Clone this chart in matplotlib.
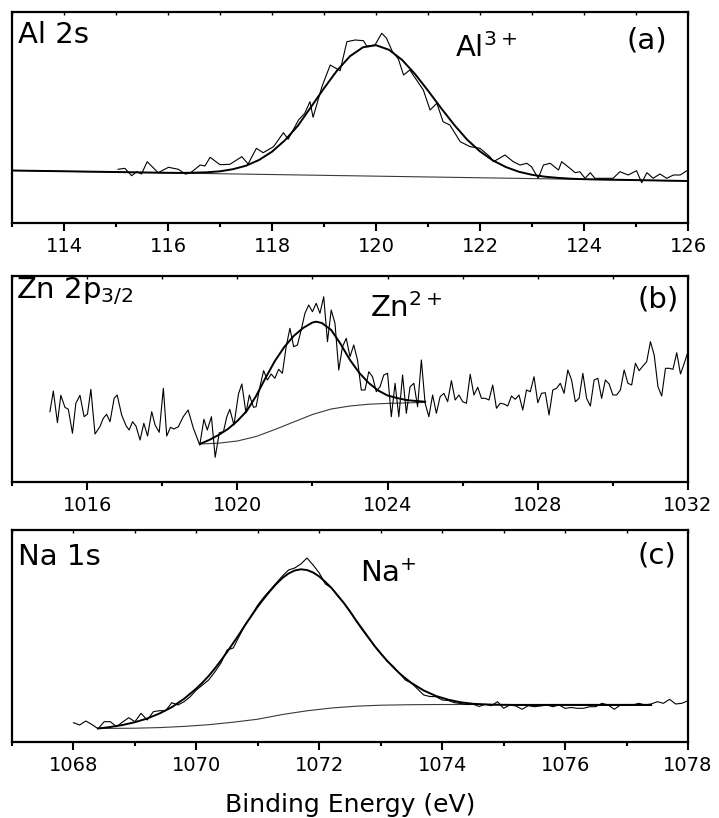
import numpy as np
import matplotlib
matplotlib.use("Agg")
import matplotlib.pyplot as plt
from matplotlib.ticker import MultipleLocator, NullLocator

plt.rcParams['font.family'] = ['DejaVu Sans']
plt.rcParams['mathtext.fontset'] = 'dejavusans'

# ---------------- Panel (a) Al 2s ----------------
raw_a_x = [115.04, 115.17, 115.30, 115.40, 115.49, 115.60, 115.81, 116.01, 116.20, 116.33,
           116.42, 116.62, 116.71, 116.81, 117.00, 117.19, 117.42, 117.54, 117.70, 117.83,
           118.03, 118.22, 118.31, 118.51, 118.63, 118.73, 118.79, 118.96, 119.12, 119.31,
           119.44, 119.60, 119.76, 119.82, 119.98, 120.11, 120.20, 120.31, 120.43, 120.53,
           120.65, 120.78, 120.91, 121.04, 121.17, 121.29, 121.42, 121.62, 121.81, 122.00,
           122.19, 122.26, 122.48, 122.64, 122.77, 122.90, 122.99, 123.12, 123.22, 123.35,
           123.51, 123.57, 123.73, 123.83, 123.92, 124.02, 124.12, 124.21, 124.56, 124.69,
           124.85, 125.01, 125.11, 125.21, 125.33, 125.46, 125.59, 125.72, 125.85, 126.00]
raw_a_y = [52.7, 53.7, 46.3, 50.3, 48.0, 60.3, 49.3, 54.7, 52.7, 48.0,
           48.7, 57.0, 56.0, 64.7, 57.3, 57.7, 65.3, 58.0, 73.7, 69.3,
           75.3, 89.3, 82.7, 102.0, 108.7, 120.3, 104.7, 135.3, 157.0, 151.3,
           180.3, 182.0, 181.3, 176.0, 177.0, 188.7, 184.0, 171.0, 163.0, 147.0,
           152.0, 142.0, 132.0, 112.0, 118.7, 100.3, 97.0, 80.3, 75.3, 73.7,
           65.3, 60.3, 67.0, 60.3, 57.0, 58.7, 55.3, 43.7, 57.0, 58.7,
           52.0, 60.3, 53.7, 49.3, 50.3, 43.7, 49.3, 43.7, 43.7, 50.3,
           47.0, 51.3, 39.3, 49.3, 43.7, 48.0, 43.7, 47.0, 47.0, 52.0]
fit_a_x = [113.0, 116.0, 116.25, 116.5, 116.75, 117.0, 117.25, 117.5, 117.75, 118.0,
           118.25, 118.5, 118.75, 119.0, 119.25, 119.5, 119.75, 120.0, 120.25, 120.5,
           120.75, 121.0, 121.25, 121.5, 121.75, 122.0, 122.25, 122.5, 122.75, 123.0,
           123.25, 123.5, 123.75, 124.0, 126.0]
fit_a_y = [51.5, 49.2, 49.1, 49.3, 49.7, 50.7, 52.8, 56.3, 62.0, 70.3,
           81.8, 96.4, 115.0, 133.7, 151.4, 165.8, 174.7, 176.8, 172.2, 162.2,
           148.0, 131.4, 114.0, 97.4, 82.5, 70.6, 61.5, 54.9, 50.2, 47.2,
           45.3, 44.1, 43.3, 42.8, 41.0]
bg_a_x = [113.0, 126.0]
bg_a_y = [51.5, 41.0]

# ---------------- Panel (b) Zn 2p3/2 ----------------
raw_b_left_x = [1015.01, 1015.10, 1015.21, 1015.30, 1015.41, 1015.50, 1015.61, 1015.70, 1015.81, 1015.92,
                1016.01, 1016.10, 1016.21, 1016.34, 1016.43, 1016.52, 1016.61, 1016.72, 1016.80, 1016.92,
                1017.04, 1017.12, 1017.21, 1017.30, 1017.41, 1017.51, 1017.61, 1017.72, 1017.81, 1017.92,
                1018.03, 1018.12, 1018.22, 1018.31, 1018.43, 1018.56, 1018.69, 1018.83, 1019.00, 1019.11,
                1019.20, 1019.31, 1019.41, 1019.52, 1019.63, 1019.72, 1019.80, 1019.91, 1020.03, 1020.12,
                1020.23, 1020.32, 1020.43]
raw_b_left_y = [70.3, 91.0, 59.3, 86.7, 74.7, 72.7, 48.7, 78.7, 86.7, 65.3,
                68.0, 92.7, 48.0, 55.3, 63.7, 67.7, 60.3, 83.7, 87.0, 67.0,
                56.0, 52.0, 60.3, 56.0, 42.0, 58.7, 46.0, 70.3, 57.0, 49.7,
                93.7, 46.0, 54.7, 53.0, 55.3, 65.3, 72.0, 53.7, 37.0, 62.7,
                52.0, 65.3, 24.7, 49.3, 50.3, 65.3, 72.7, 57.0, 88.0, 98.0,
                69.0, 87.0, 74.7]
raw_b_right_start = 1020.5
raw_b_step = 0.1
raw_b_right_y = [75.3, 95.0, 111.3, 102.0, 108.0, 103.7, 112.7, 108.7, 135.3, 153.7,
                 135.3, 137.0, 152.0, 168.7, 177.0, 170.3, 178.7, 168.7, 185.3, 140.3,
                 172.0, 158.7, 112.0, 135.3, 143.7, 125.3, 137.0, 122.0, 92.0, 92.0,
                 110.3, 105.3, 90.3, 95.3, 107.0, 108.7, 65.3, 98.7, 65.3, 107.0,
                 68.7, 95.3, 98.7, 75.3, 122.0, 78.7, 65.3, 87.0, 68.7, 85.3,
                 88.7, 80.3, 101.3, 82.0, 87.0, 80.3, 78.7, 107.7, 87.0, 94.7,
                 83.7, 83.7, 82.0, 97.0, 73.7, 78.7, 78.0, 76.0, 86.0, 82.7,
                 87.0, 72.0, 92.0, 90.3, 105.3, 79.3, 88.7, 89.3, 67.0, 92.0,
                 93.7, 98.7, 88.7, 112.0, 102.0, 80.3, 83.7, 108.7, 83.7, 76.0,
                 102.0, 103.7, 83.7, 102.0, 98.0, 87.0, 87.0, 92.0, 112.0, 98.7,
                 97.0, 118.7, 111.3, 116.0, 120.3, 140.3, 127.0, 95.3, 86.0, 113.7,
                 113.7, 112.7, 129.3, 108.0, 118.7, 130.3]
fit_b_x = [1019.0, 1019.25, 1019.5, 1019.75, 1020.0, 1020.25, 1020.5, 1020.75, 1021.0, 1021.25,
           1021.5, 1021.75, 1022.0, 1022.1, 1022.25, 1022.5, 1022.75, 1023.0, 1023.25, 1023.5,
           1023.75, 1024.0, 1024.25, 1024.5, 1024.75, 1025.0]
fit_b_y = [38.0, 42.0, 47.0, 53.0, 61.0, 71.0, 86.0, 104.0, 121.0, 135.0,
           146.0, 154.0, 159.5, 160.3, 159.0, 152.0, 138.0, 122.0, 109.0, 99.0,
           91.5, 86.5, 84.0, 82.0, 81.0, 80.3]
bg_b_x = [1019.0, 1019.5, 1020.0, 1020.5, 1021.0, 1021.5, 1022.0, 1022.5, 1023.0, 1023.5,
          1024.0, 1024.5, 1025.0]
bg_b_y = [38.0, 38.8, 41.0, 45.5, 52.5, 60.0, 67.5, 73.0, 76.0, 77.8,
          78.6, 79.1, 79.6]

# ---------------- Panel (c) Na 1s ----------------
raw_c_start = 1068.0
raw_c_step = 0.1
raw_c_y = [19.3, 17.0, 21.0, 17.5, 13.3, 20.3, 20.3, 15.3, 20.0, 24.3,
           20.3, 28.7, 22.0, 30.3, 31.3, 31.3, 39.3, 37.0, 40.3, 45.3,
           52.0, 57.0, 62.0, 70.0, 79.0, 92.0, 94.0, 106.0, 118.0, 127.0,
           137.0, 145.0, 152.0, 159.0, 166.0, 172.0, 174.0, 178.0, 184.0, 177.0,
           169.0, 158.0, 154.0, 146.0, 139.0, 131.0, 121.0, 112.0, 104.0, 96.0,
           89.0, 81.0, 76.0, 69.0, 62.0, 59.0, 53.0, 47.0, 45.5, 45.3,
           42.0, 41.5, 39.3, 38.5, 37.5, 38.0, 35.5, 37.7, 36.3, 40.3,
           33.7, 37.0, 36.0, 32.7, 36.3, 35.3, 36.0, 37.0, 35.3, 37.0,
           33.7, 34.5, 33.7, 33.7, 35.3, 35.3, 38.7, 37.0, 32.7, 37.0,
           37.0, 37.0, 38.7, 37.0, 38.0, 40.3, 38.7, 42.7, 38.0, 38.7,
           41.3]
fit_c_x = [1068.4, 1068.6, 1068.8, 1069.0, 1069.2, 1069.4, 1069.6, 1069.8, 1070.0, 1070.1,
           1070.2, 1070.3, 1070.4, 1070.5, 1070.6, 1070.7, 1070.8, 1070.9, 1071.0, 1071.1,
           1071.2, 1071.3, 1071.4, 1071.5, 1071.6, 1071.7, 1071.8, 1071.9, 1072.0, 1072.1,
           1072.2, 1072.3, 1072.4, 1072.5, 1072.6, 1072.7, 1072.8, 1072.9, 1073.0, 1073.1,
           1073.2, 1073.3, 1073.4, 1073.5, 1073.7, 1073.9, 1074.1, 1074.3, 1074.5, 1074.8,
           1075.2, 1077.4]
fit_c_y = [13.5, 15.0, 17.0, 19.8, 23.5, 28.5, 34.8, 43.2, 53.5, 59.5,
           66.0, 73.5, 81.5, 90.0, 99.0, 108.0, 117.5, 126.5, 135.5, 143.5,
           151.0, 158.0, 164.0, 168.5, 171.5, 172.7, 172.0, 169.5, 165.5, 160.0,
           154.0, 146.5, 139.0, 130.5, 121.5, 113.0, 104.5, 96.0, 88.5, 81.5,
           75.0, 69.0, 63.8, 59.0, 51.5, 46.0, 42.3, 39.7, 38.2, 37.3,
           37.0, 37.0]
bg_c_x = [1068.4, 1069.0, 1069.4, 1069.8, 1070.2, 1070.6, 1071.0, 1071.4, 1071.8, 1072.2,
          1072.6, 1073.0, 1073.5, 1074.0, 1077.4]
bg_c_y = [13.5, 13.8, 14.4, 15.6, 17.3, 19.8, 22.8, 27.5, 31.2, 34.0,
          35.8, 36.8, 37.3, 37.5, 37.6]

W, H = 719.0, 818.0
fig = plt.figure(figsize=(7.19, 8.18), dpi=100)


def make_ax(top_px, bot_px):
    return fig.add_axes([12 / W, 1 - bot_px / H, 676 / W, (bot_px - top_px) / H])


def style(ax, xlim, ylim, major, minor):
    ax.set_xlim(*xlim)
    ax.set_ylim(*ylim)
    ax.xaxis.set_major_locator(MultipleLocator(major))
    ax.xaxis.set_minor_locator(MultipleLocator(minor))
    ax.yaxis.set_major_locator(NullLocator())
    ax.yaxis.set_minor_locator(NullLocator())
    for s in ax.spines.values():
        s.set_linewidth(1.6)
    ax.tick_params(axis='x', which='major', direction='out', length=5.8, width=1.5,
                   labelsize=14, pad=4)
    ax.tick_params(axis='x', which='minor', direction='out', length=2.6, width=1.5)
    sec = ax.secondary_xaxis('top')
    sec.xaxis.set_major_locator(MultipleLocator(minor))
    sec.tick_params(axis='x', direction='in', length=2.2, width=1.0, labeltop=False)
    sec.spines['top'].set_visible(False)


RAW = dict(color='black', lw=0.8)
FIT = dict(color='black', lw=1.4)
BG = dict(color='#3a3a3a', lw=0.8)
LBL = 21

# (a)
axa = make_ax(12, 223)
style(axa, (113, 126), (-1, 210), 2, 1)
axa.plot(bg_a_x, bg_a_y, **BG)
axa.plot(fit_a_x, fit_a_y, **FIT)
axa.plot(raw_a_x, raw_a_y, **RAW)
axa.text(0.009, 0.853, 'Al 2s', transform=axa.transAxes, fontsize=LBL, va='baseline', ha='left')
axa.text(0.969, 0.864, '(a)', transform=axa.transAxes, fontsize=LBL, va='center', ha='right')
axa.text(0.655, 0.787, r'Al$^{\mathregular{3+}}$', transform=axa.transAxes, fontsize=LBL,
         va='baseline', ha='left')

# (b)
axb = make_ax(276, 482)
style(axb, (1014, 1032), (0, 206), 4, 2)
raw_b_x = np.concatenate([raw_b_left_x,
                          raw_b_right_start + raw_b_step * np.arange(len(raw_b_right_y))])
raw_b_y = np.concatenate([raw_b_left_y, raw_b_right_y])
axb.plot(bg_b_x, bg_b_y, **BG)
axb.plot(fit_b_x, fit_b_y, **FIT)
axb.plot(raw_b_x, raw_b_y, **RAW)
axb.text(0.006, 0.893, r'Zn 2p$_{\mathregular{3/2}}$', transform=axb.transAxes, fontsize=LBL,
         va='baseline', ha='left')
axb.text(0.987, 0.888, '(b)', transform=axb.transAxes, fontsize=LBL, va='center', ha='right')
axb.text(0.53, 0.80, r'Zn$^{\mathregular{2+}}$', transform=axb.transAxes, fontsize=LBL,
         va='baseline', ha='left')

# (c)
axc = make_ax(530, 742)
style(axc, (1067, 1078), (0, 212), 2, 1)
raw_c_x = raw_c_start + raw_c_step * np.arange(len(raw_c_y))
axc.plot(bg_c_x, bg_c_y, **BG)
axc.plot(fit_c_x, fit_c_y, **FIT)
axc.plot(raw_c_x, raw_c_y, **RAW)
axc.text(0.009, 0.835, 'Na 1s', transform=axc.transAxes, fontsize=LBL, va='baseline', ha='left')
axc.text(0.983, 0.878, '(c)', transform=axc.transAxes, fontsize=LBL, va='center', ha='right')
axc.text(0.515, 0.756, r'Na$^{\mathregular{+}}$', transform=axc.transAxes, fontsize=LBL,
         va='baseline', ha='left')

fig.text(350 / W, 1 - 812 / H, 'Binding Energy (eV)', fontsize=18, ha='center', va='baseline')

fig.savefig('out.png', dpi=100)
